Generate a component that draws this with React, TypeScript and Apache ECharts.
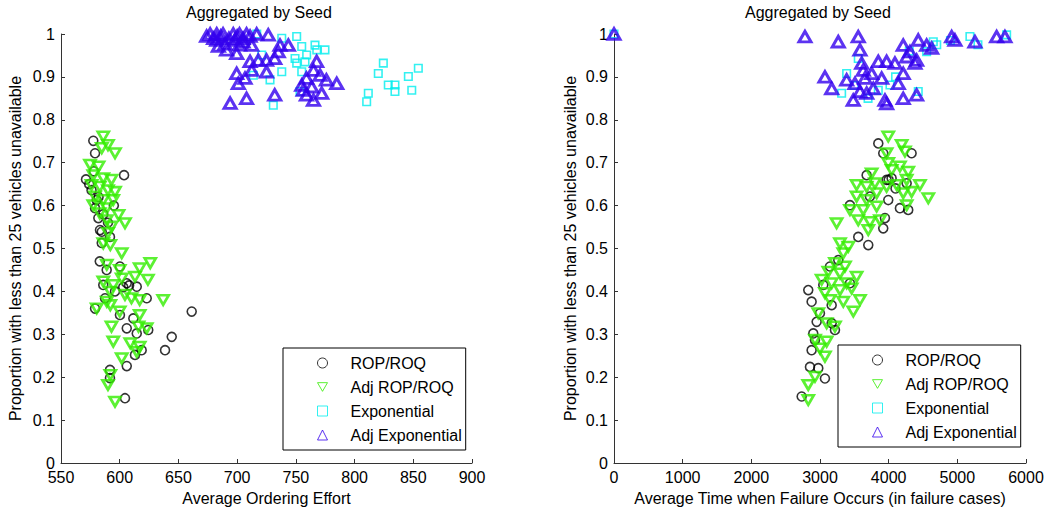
import React, { useEffect, useRef } from "react";
import * as echarts from "echarts";

const FONT = "'Liberation Sans', Arial, Helvetica, sans-serif";

const seriesNames = ["ROP/ROQ", "Adj ROP/ROQ", "Exponential", "Adj Exponential"];
const titleText = "Aggregated by Seed";
const yAxisName = "Proportion with less than 25 vehicles unavailable";
const leftXName = "Average Ordering Effort";
const rightXName = "Average Time when Failure Occurs (in failure cases)";

// Left panel: Average Ordering Effort vs proportion
const effortRopRoq = [
  [577.5, 0.751], [579, 0.722], [603.7, 0.671], [571.3, 0.661], [576, 0.636], [580.4, 0.613],
  [579, 0.594], [581.8, 0.571], [583.2, 0.543], [584.7, 0.513], [591.7, 0.527], [584.7, 0.539],
  [574, 0.65], [578, 0.68], [582, 0.62], [586, 0.58], [590, 0.56], [595, 0.6],
  [588.9, 0.45], [600.2, 0.458], [586, 0.415], [606, 0.419], [603, 0.41], [608, 0.414],
  [614.5, 0.411], [587.5, 0.384], [623, 0.384], [579, 0.36], [600.2, 0.345], [611.6, 0.337],
  [606, 0.314], [614.5, 0.302], [624.3, 0.31], [644.3, 0.294], [661.3, 0.353], [638.6, 0.263],
  [618.7, 0.263], [613, 0.252], [606, 0.226], [591.7, 0.217], [591.7, 0.198], [604.5, 0.151],
  [583, 0.47], [596, 0.4],
];
const effortAdjRopRoq = [
  [586, 0.761], [590, 0.741], [596, 0.722], [584.7, 0.734], [574.7, 0.695], [582, 0.691],
  [577.5, 0.671], [586, 0.664], [593, 0.66], [576, 0.648], [583, 0.644], [590, 0.636],
  [596, 0.632], [579, 0.621], [586, 0.613], [594.5, 0.613], [577.5, 0.601], [589, 0.594],
  [583, 0.582], [599, 0.578], [604.5, 0.559], [589, 0.566], [593, 0.551], [590, 0.536],
  [586, 0.512], [592, 0.508], [601.7, 0.489], [589, 0.462], [600, 0.45], [617, 0.454],
  [626, 0.466], [586, 0.423], [594.5, 0.415], [601.7, 0.43], [613, 0.434], [624, 0.427],
  [592, 0.399], [604.5, 0.392], [610, 0.384], [617, 0.38], [637, 0.38], [589, 0.376],
  [580.4, 0.36], [592, 0.368], [600, 0.353], [617, 0.345], [593, 0.318], [616, 0.318],
  [623, 0.314], [594.5, 0.283], [609, 0.279], [617, 0.271], [614.5, 0.259], [601.7, 0.244],
  [592, 0.205], [590, 0.182], [596, 0.143],
];
const effortExp = [
  [750.7, 0.994], [755, 0.971], [766.3, 0.974], [774.8, 0.963], [767.8, 0.963], [759.2, 0.951],
  [749.3, 0.943], [757.8, 0.935], [750.7, 0.932], [738, 0.912], [755, 0.912], [728, 0.893],
  [713.8, 0.904], [753.5, 0.866], [730.8, 0.834], [824.5, 0.932], [820.2, 0.908], [854.3, 0.92],
  [845.8, 0.901], [828.7, 0.881], [834.4, 0.881], [834.4, 0.866], [848.7, 0.869], [811.7, 0.862],
  [810.3, 0.842], [716.7, 1.0], [738, 0.99], [720.9, 0.951],
];
const effortAdjExp = [
  [677, 1.0], [682.6, 1.0], [688, 1.0], [696.7, 1.0], [702, 1.0], [708, 1.0], [716.6, 1.0],
  [674, 0.995], [680, 0.99], [686, 0.995], [693, 0.99], [700, 0.995], [705, 0.99], [711, 0.995],
  [682.6, 0.986], [689.7, 0.977], [698, 0.986], [705, 0.982], [712.4, 0.974], [726.5, 0.998],
  [684, 0.972], [702, 0.975], [691, 0.963], [699.6, 0.955], [736.5, 0.974], [743.6, 0.974],
  [711, 0.936], [718, 0.939], [725, 0.939], [732, 0.943], [735, 0.959], [712.4, 0.916],
  [725, 0.912], [699.6, 0.908], [706.7, 0.897], [701, 0.885], [694, 0.839], [708, 0.85],
  [732, 0.858], [767.7, 0.936], [765, 0.916], [770.6, 0.904], [759, 0.897], [776, 0.893],
  [784.8, 0.885], [755, 0.881], [763.5, 0.877], [772, 0.862], [759, 0.858], [765, 0.846],
  [756.3, 0.869],
];

// Right panel: Average Time when Failure Occurs vs proportion
const failRopRoq = [
  [3849, 0.745], [3921, 0.722], [4334, 0.722], [3679, 0.671], [4043, 0.664], [3970, 0.66],
  [4262, 0.652], [3727, 0.621], [3994, 0.613], [4164, 0.594], [4285, 0.59], [3436, 0.601],
  [3946, 0.571], [3921, 0.547], [3557, 0.527], [3703, 0.508], [3266, 0.473], [3145, 0.458],
  [3048, 0.415], [3436, 0.419], [2829, 0.403], [2878, 0.376], [3170, 0.368], [2999, 0.349],
  [2951, 0.329], [3170, 0.326], [3218, 0.31], [2902, 0.302], [2927, 0.287], [2878, 0.263],
  [2854, 0.224], [2975, 0.221], [3072, 0.197], [2733, 0.155], [4000, 0.66], [4100, 0.64],
];
const failAdjRopRoq = [
  [3994, 0.761], [4189, 0.741], [3970, 0.722], [4237, 0.726], [3994, 0.699], [4164, 0.691],
  [4285, 0.679], [3752, 0.675], [4043, 0.683], [3533, 0.648], [3679, 0.644], [3800, 0.652],
  [3970, 0.644], [4116, 0.648], [4262, 0.66], [4455, 0.648], [4577, 0.617], [4212, 0.629],
  [4334, 0.632], [3533, 0.621], [3679, 0.613], [3825, 0.629], [4262, 0.601], [3436, 0.59],
  [3630, 0.59], [3825, 0.598], [3557, 0.566], [3727, 0.562], [3873, 0.566], [3703, 0.543],
  [3242, 0.559], [3291, 0.512], [3412, 0.504], [3339, 0.489], [3218, 0.466], [3364, 0.458],
  [3121, 0.446], [3291, 0.442], [3533, 0.434], [3024, 0.427], [3170, 0.419], [3388, 0.419],
  [3072, 0.396], [3291, 0.403], [3461, 0.407], [3582, 0.38], [3145, 0.38], [3339, 0.376],
  [3485, 0.353], [2975, 0.349], [3097, 0.326], [3218, 0.318], [2927, 0.287], [3097, 0.283],
  [2999, 0.267], [3072, 0.248], [2927, 0.201], [2829, 0.182], [2829, 0.147],
];
const failExp = [
  [0, 1.0], [3388, 0.908], [3315, 0.862], [4650, 0.982], [5183, 0.994], [5718, 0.998],
  [4431, 0.866], [4019, 0.881], [3849, 0.869], [3557, 0.943], [4553, 0.959], [4700, 0.975],
  [4900, 0.985], [5300, 0.975], [3500, 0.88], [3700, 0.85], [4100, 0.9], [4300, 0.96],
];
const failAdjExp = [
  [0, 1.0], [2781, 0.994], [3266, 0.982], [3557, 0.994], [3582, 0.963], [4212, 0.974],
  [4431, 0.986], [4553, 0.974], [4626, 0.967], [4917, 0.994], [4965, 0.986], [5256, 0.982],
  [5572, 0.994], [5693, 0.994], [4310, 0.959], [4262, 0.947], [4407, 0.939], [3607, 0.932],
  [3849, 0.936], [3970, 0.936], [4091, 0.932], [4383, 0.932], [3630, 0.916], [3752, 0.908],
  [4212, 0.908], [3072, 0.9], [3388, 0.893], [3655, 0.897], [3898, 0.897], [3509, 0.885],
  [3170, 0.873], [4140, 0.885], [3582, 0.866], [3776, 0.873], [3484, 0.846], [3680, 0.862],
  [3946, 0.846], [3970, 0.838], [4212, 0.85], [4407, 0.858],
];

const downTriangle = "path://M0,0L20,0L10,17.32Z";

const styles = [
  { symbol: "circle", size: 9, color: "#000000", bw: 1.6 },
  { symbol: downTriangle, size: [11, 9.5], color: "#33ee00", bw: 2.7 },
  { symbol: "rect", size: 7.5, color: "#00eeee", bw: 1.6 },
  { symbol: "triangle", size: [12, 10.5], color: "#3300ee", bw: 3 },
];

function makeSeries(idx: number, data: number[][], axisIndex: number) {
  const s = styles[idx];
  return {
    type: "scatter",
    name: seriesNames[idx],
    xAxisIndex: axisIndex,
    yAxisIndex: axisIndex,
    data,
    symbol: s.symbol,
    symbolSize: s.size,
    clip: false,
    itemStyle: { color: "rgba(255,255,255,0)", borderColor: s.color, borderWidth: s.bw },
    emphasis: { disabled: true },
    z: 2 + idx,
  };
}

function xAxis(gridIndex: number, min: number, max: number, interval: number, name: string) {
  return {
    type: "value",
    gridIndex,
    min,
    max,
    interval,
    name,
    nameLocation: "middle",
    nameGap: 27,
    nameTextStyle: { fontSize: 16, color: "#000", fontFamily: FONT },
    axisLine: { show: true, lineStyle: { color: "#333", width: 1 } },
    axisTick: { show: true, inside: true, length: 4, lineStyle: { color: "#333" } },
    axisLabel: { fontSize: 16, color: "#000", fontFamily: FONT, margin: 6, formatter: (v: number) => String(v) },
    splitLine: { show: false },
  };
}

function yAxis(gridIndex: number, nameGap: number) {
  return {
    type: "value",
    gridIndex,
    min: 0,
    max: 1,
    interval: 0.1,
    name: yAxisName,
    nameLocation: "middle",
    nameGap,
    nameRotate: 90,
    nameTextStyle: { fontSize: 16, color: "#000", fontFamily: FONT },
    axisLine: { show: true, lineStyle: { color: "#333", width: 1 } },
    axisTick: { show: true, inside: true, length: 4, lineStyle: { color: "#333" } },
    axisLabel: { fontSize: 16, color: "#000", fontFamily: FONT, margin: 6 },
    splitLine: { show: false },
  };
}

function legend(left: number, top: number) {
  return {
    left,
    top,
    orient: "vertical",
    data: seriesNames,
    padding: [7, 4, 7, 34],
    itemWidth: 10,
    itemHeight: 10,
    itemGap: 8,
    borderColor: "#000",
    borderWidth: 1,
    backgroundColor: "#fff",
    selectedMode: false,
    itemStyle: { borderWidth: 1 },
    textStyle: { fontSize: 16, color: "#000", fontFamily: FONT, lineHeight: 16, padding: [0, 0, 0, 18] },
  };
}

export default function App() {
  const ref = useRef<HTMLDivElement>(null);
  useEffect(() => {
    if (!ref.current) return;
    const chart = echarts.init(ref.current, undefined, { renderer: "svg" });
    chart.setOption({
      animation: false,
      backgroundColor: "#fff",
      title: [
        { text: titleText, left: 186, top: 4, padding: 0, textStyle: { fontSize: 16, fontWeight: "normal", color: "#000", fontFamily: FONT } },
        { text: titleText, left: 745, top: 4, padding: 0, textStyle: { fontSize: 16, fontWeight: "normal", color: "#000", fontFamily: FONT } },
      ],
      grid: [
        { left: 61, top: 34, width: 411, height: 429 },
        { left: 614, top: 34, width: 412, height: 429 },
      ],
      xAxis: [xAxis(0, 550, 900, 50, leftXName), xAxis(1, 0, 6000, 1000, rightXName)],
      yAxis: [yAxis(0, 38), yAxis(1, 36)],
      legend: [legend(283, 348), legend(838, 345)],
      series: [
        makeSeries(0, effortRopRoq, 0),
        makeSeries(1, effortAdjRopRoq, 0),
        makeSeries(2, effortExp, 0),
        makeSeries(3, effortAdjExp, 0),
        makeSeries(0, failRopRoq, 1),
        makeSeries(1, failAdjRopRoq, 1),
        makeSeries(2, failExp, 1),
        makeSeries(3, failAdjExp, 1),
      ],
    });
    return () => chart.dispose();
  }, []);
  return <div ref={ref} style={{ width: 1055, height: 512, position: "absolute", left: 0, top: 0 }} />;
}
